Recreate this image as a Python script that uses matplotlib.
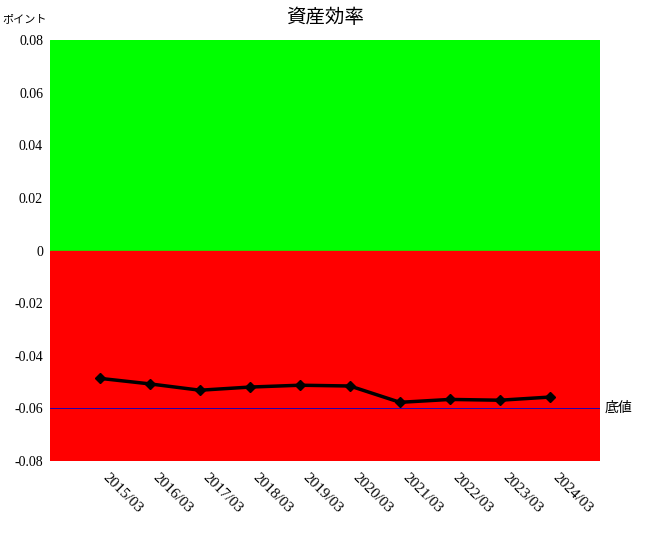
import matplotlib
matplotlib.use('Agg')
import matplotlib.pyplot as plt
import numpy as np

plt.rcParams['font.family'] = ['Liberation Serif', 'Noto Sans CJK JP', 'DejaVu Sans']

# data
periods = ['2015/03', '2016/03', '2017/03', '2018/03', '2019/03',
           '2020/03', '2021/03', '2022/03', '2023/03', '2024/03']
values = [-0.0486, -0.0507, -0.0531, -0.0519, -0.0512,
          -0.0515, -0.0577, -0.0566, -0.0569, -0.0557]
floor_value = -0.06
y_ticks = [0.08, 0.06, 0.04, 0.02, 0, -0.02, -0.04, -0.06, -0.08]
y_tick_labels = ['0.08', '0.06', '0.04', '0.02', '0', '-0.02', '-0.04', '-0.06', '-0.08']

fig = plt.figure(figsize=(6.5, 5.4), dpi=100)
ax = fig.add_axes([50 / 650, 1 - 461 / 540, 550 / 650, 421 / 540])

x = np.arange(len(periods))
ax.set_xlim(-1, len(periods))
ax.set_ylim(-0.08, 0.08)

# background bands
ax.axhspan(0, 0.08, color='#00ff00', zorder=0)
ax.axhspan(-0.08, 0, color='#ff0000', zorder=0)

ax.axhline(floor_value, color='#0000cc', linewidth=0.6, zorder=1)
ax.text(len(periods) + 0.1, floor_value, '底値', fontsize=10, va='center', ha='left')

ax.plot(x, values, color='black', linewidth=2.5, marker='D', markersize=5.5, zorder=3)

ax.set_yticks(y_ticks)
ax.set_yticklabels(y_tick_labels, fontsize=10)
ax.set_xticks(x)
ax.set_xticklabels(periods, fontsize=11, rotation=-45, ha='left', va='top',
                   rotation_mode='default')
ax.tick_params(axis='both', length=0)
ax.tick_params(axis='y', pad=5)
ax.tick_params(axis='x', pad=7)
for s in ax.spines.values():
    s.set_visible(False)

fig.text(325 / 650, 1 - 18 / 540, '資産効率', fontsize=14, ha='center', va='center')
fig.text(2 / 650, 1 - 19 / 540, 'ポイント', fontsize=8, ha='left', va='center')

fig.savefig('out.png', dpi=100)
